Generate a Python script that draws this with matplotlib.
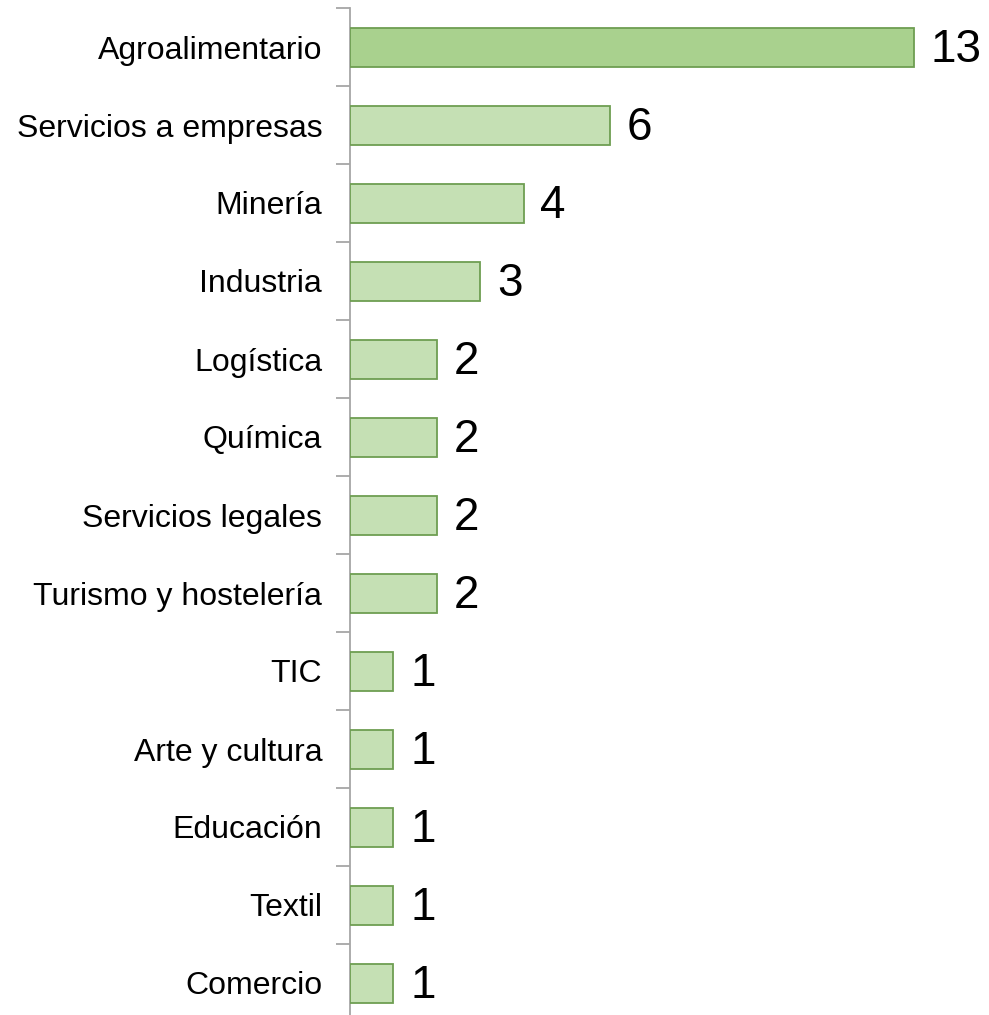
import matplotlib
matplotlib.use("Agg")
import matplotlib.pyplot as plt

categories = ["Agroalimentario", "Servicios a empresas", "Minería", "Industria",
              "Logística", "Química", "Servicios legales", "Turismo y hostelería",
              "TIC", "Arte y cultura", "Educación", "Textil", "Comercio"]
values = [13, 6, 4, 3, 2, 2, 2, 2, 1, 1, 1, 1, 1]

plt.rcParams['font.family'] = ['Liberation Sans', 'DejaVu Sans']

W, H = 989, 1015
fig = plt.figure(figsize=(W / 100, H / 100), dpi=100)
ax_left, ax_right = 350, 989
ax_top, ax_bot = 8, 1022
ax = fig.add_axes([ax_left / W, 1 - ax_bot / H, (ax_right - ax_left) / W, (ax_bot - ax_top) / H])

n = len(categories)
ypos = list(range(n))
colors = ["#A9D18E"] + ["#C5E0B4"] * (n - 1)
ax.barh(ypos, values, height=0.5, color=colors, edgecolor="#6E9E52", linewidth=1.3, zorder=3)

for y, v in zip(ypos, values):
    ax.annotate(str(v), (v, y), xytext=(12, -2), textcoords="offset points",
                ha="left", va="center", fontsize=33, color="black")

ax.set_ylim(n - 0.5, -0.5)
ax.set_xlim(0, (ax_right - ax_left) / 43.4)
ax.set_yticks([i - 0.5 for i in range(n + 1)])
ax.set_yticklabels([])
ax.set_yticks(ypos, minor=True)
ax.set_yticklabels(categories, minor=True, fontsize=23)
ax.tick_params(axis="y", which="major", length=10, width=1.3, color="#A6A6A6", direction="out")
ax.tick_params(axis="y", which="minor", length=0, pad=20)
ax.set_xticks([])
for s in ["top", "right", "bottom"]:
    ax.spines[s].set_visible(False)
ax.spines["left"].set_color("#A6A6A6")
ax.spines["left"].set_linewidth(1.3)

fig.savefig("out.png", dpi=100)
